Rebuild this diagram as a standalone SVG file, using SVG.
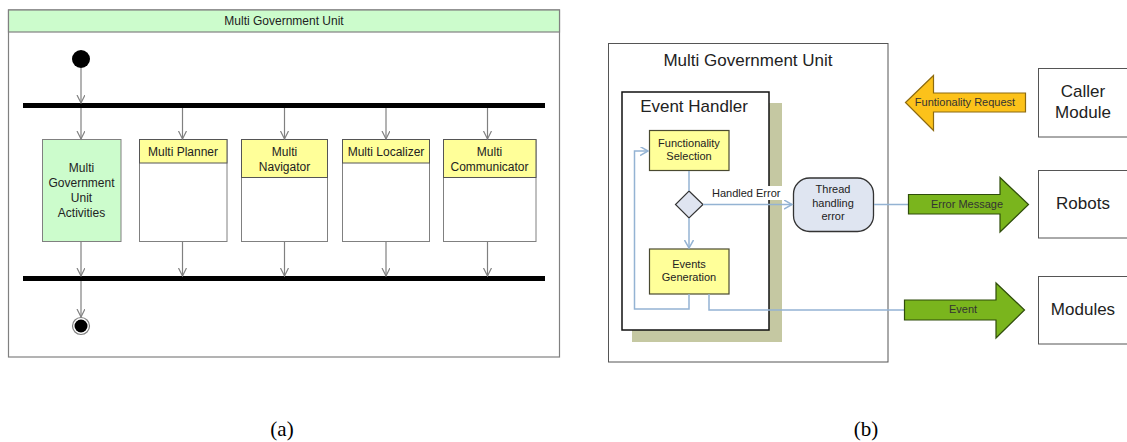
<svg xmlns="http://www.w3.org/2000/svg" width="1127" height="442" viewBox="0 0 1127 442">
<defs>
<style>
text{font-family:"Liberation Sans",Arial,sans-serif;fill:#222}
.a{font-size:12px;text-anchor:middle}
.s{font-size:11px;text-anchor:middle}
.b{font-size:17px;text-anchor:middle}
.cap{font-family:"Liberation Serif","DejaVu Serif",serif;font-size:21px;text-anchor:middle;fill:#000}
.g{stroke:#808080;stroke-width:1.2;fill:none}
.bl{stroke:#94b3d3;stroke-width:1.5;fill:none}
.yb{fill:#ffff99;stroke:#555;stroke-width:1}
.wb{fill:#fff;stroke:#808080;stroke-width:1}
</style>
<marker id="va" markerWidth="10" markerHeight="10" refX="8" refY="4" orient="auto" markerUnits="userSpaceOnUse"><path d="M0,0 L8,4 L0,8" fill="none" stroke="#808080" stroke-width="1.2"/></marker>
<marker id="vb" markerWidth="10" markerHeight="10" refX="8" refY="4.5" orient="auto" markerUnits="userSpaceOnUse"><path d="M0,0 L8,4.5 L0,9" fill="none" stroke="#94b3d3" stroke-width="1.5"/></marker>
</defs>
<rect width="1127" height="442" fill="#fff"/>

<!-- Panel (a) -->
<g id="a-frame">
<rect x="8.5" y="10" width="551" height="347" fill="#fff" stroke="#808080" stroke-width="1.2"/>
<rect x="8.5" y="10" width="551" height="22" fill="#ccfccc" stroke="#808080" stroke-width="1.2"/>
<text class="a" x="284" y="25">Multi Government Unit</text>
</g>
<g id="a-start"><circle cx="81" cy="59" r="9" fill="#000"/></g>
<g id="a-fork"><rect x="23" y="103" width="522" height="5" fill="#000"/></g>
<g id="a-join"><rect x="23" y="276" width="522" height="5" fill="#000"/></g>
<g id="a-end"><circle cx="81" cy="326" r="8.5" fill="#fff" stroke="#808080" stroke-width="1.2"/><circle cx="81" cy="326" r="6.5" fill="#000"/></g>
<g id="a-mgu">
<rect x="42.5" y="139.5" width="78.5" height="102" fill="#ccfccc" stroke="#808080"/>
<text class="a" x="81.5" y="172">Multi</text>
<text class="a" x="81.5" y="187">Government</text>
<text class="a" x="81.5" y="202">Unit</text>
<text class="a" x="81.5" y="217">Activities</text>
</g>
<g id="a-planner">
<rect class="wb" x="139.5" y="139.5" width="87.5" height="102"/>
<rect class="yb" x="139.5" y="139.5" width="87.5" height="23.5" stroke="#808080"/>
<text class="a" x="183" y="156">Multi Planner</text>
</g>
<g id="a-navigator">
<rect class="wb" x="241.5" y="139.5" width="86" height="102"/>
<rect class="yb" x="241.5" y="139.5" width="86" height="38" stroke="#808080"/>
<text class="a" x="284.5" y="156">Multi</text>
<text class="a" x="284.5" y="171">Navigator</text>
</g>
<g id="a-localizer">
<rect class="wb" x="342.5" y="139.5" width="87" height="102"/>
<rect class="yb" x="342.5" y="139.5" width="87" height="23.5" stroke="#808080"/>
<text class="a" x="386" y="156">Multi Localizer</text>
</g>
<g id="a-communicator">
<rect class="wb" x="443.5" y="139.5" width="92.5" height="102"/>
<rect class="yb" x="443.5" y="139.5" width="92.5" height="38" stroke="#808080"/>
<text class="a" x="489.5" y="156">Multi</text>
<text class="a" x="489.5" y="171">Communicator</text>
</g>
<g id="a-connectors">
<line class="g" x1="81" y1="68" x2="81" y2="103" marker-end="url(#va)"/>
<line class="g" x1="81" y1="108" x2="81" y2="139" marker-end="url(#va)"/>
<line class="g" x1="182.5" y1="108" x2="182.5" y2="139" marker-end="url(#va)"/>
<line class="g" x1="284.5" y1="108" x2="284.5" y2="139" marker-end="url(#va)"/>
<line class="g" x1="386" y1="108" x2="386" y2="139" marker-end="url(#va)"/>
<line class="g" x1="487.5" y1="108" x2="487.5" y2="139" marker-end="url(#va)"/>
<line class="g" x1="81" y1="242" x2="81" y2="276" marker-end="url(#va)"/>
<line class="g" x1="182.5" y1="242" x2="182.5" y2="276" marker-end="url(#va)"/>
<line class="g" x1="284.5" y1="242" x2="284.5" y2="276" marker-end="url(#va)"/>
<line class="g" x1="386" y1="242" x2="386" y2="276" marker-end="url(#va)"/>
<line class="g" x1="487.5" y1="242" x2="487.5" y2="276" marker-end="url(#va)"/>
<line class="g" x1="81" y1="281" x2="81" y2="317" marker-end="url(#va)"/>
</g>
<text class="cap" x="282" y="436">(a)</text>

<!-- Panel (b) -->
<g id="b-frame">
<rect x="608.5" y="43.5" width="279.5" height="318.5" fill="#fff" stroke="#555" stroke-width="1"/>
<text class="b" x="748" y="66">Multi Government Unit</text>
</g>
<g id="b-eventhandler">
<rect x="632" y="103" width="150" height="239" fill="#c5c8a2"/>
<rect x="622" y="92" width="147" height="238" fill="#fff" stroke="#111" stroke-width="1.5"/>
<text class="b" x="694" y="112">Event Handler</text>
</g>
<g id="b-funcsel">
<rect x="649.5" y="130.5" width="79.5" height="40" fill="#ffff99" stroke="#4a4a30" stroke-width="1.2"/>
<text class="s" x="689" y="147">Functionality</text>
<text class="s" x="689" y="160">Selection</text>
</g>
<g id="b-decision"><path d="M689,191 L703,204.5 L689,218 L675.5,204.5 Z" fill="#dfe4f0" stroke="#333" stroke-width="1.2"/></g>
<g id="b-eventsgen">
<rect x="649.5" y="249" width="79.5" height="45" fill="#ffff99" stroke="#4a4a30" stroke-width="1.2"/>
<text class="s" x="689" y="268">Events</text>
<text class="s" x="689" y="281">Generation</text>
</g>
<g id="b-thread">
<rect x="793.5" y="178" width="80" height="53.5" rx="16" fill="#dfe5f1" stroke="#333" stroke-width="1.3"/>
<text class="s" x="833" y="193">Thread</text>
<text class="s" x="833" y="207">handling</text>
<text class="s" x="833" y="220">error</text>
</g>
<g id="b-caller">
<rect x="1038.5" y="68.5" width="95" height="68.5" fill="#fff" stroke="#555" stroke-width="1"/>
<text class="b" x="1083" y="97">Caller</text>
<text class="b" x="1083" y="118">Module</text>
</g>
<g id="b-robots">
<rect x="1038.5" y="170.5" width="95" height="67.5" fill="#fff" stroke="#555" stroke-width="1"/>
<text class="b" x="1083" y="209">Robots</text>
</g>
<g id="b-modules">
<rect x="1038.5" y="276.5" width="95" height="67.5" fill="#fff" stroke="#555" stroke-width="1"/>
<text class="b" x="1083" y="315">Modules</text>
</g>
<g id="b-connectors">
<line class="bl" x1="689" y1="171" x2="689" y2="191"/>
<line class="bl" x1="689" y1="218" x2="689" y2="248" marker-end="url(#vb)"/>
<polyline class="bl" points="689,294 689,309 634.5,309 634.5,151 648,151" marker-end="url(#vb)"/>
<polyline class="bl" points="709,294 709,310 904,310"/>
<line class="bl" x1="703" y1="204.5" x2="792" y2="204.5" marker-end="url(#vb)"/>
<line class="bl" x1="874" y1="204.5" x2="908" y2="204.5"/>
<rect x="710" y="186" width="73" height="14" fill="#fff"/>
<text x="712" y="197" font-size="11px">Handled Error</text>
</g>
<g id="b-request">
<path d="M905.5,102.5 L933.5,75.5 L933.5,93 L1025.5,93 L1025.5,112 L933.5,112 L933.5,130.5 Z" fill="#fcc21a" stroke="#8c6a10" stroke-width="1.2"/>
<text class="s" x="965" y="106" style="fill:#333">Funtionality Request</text>
</g>
<g id="b-errmsg">
<path d="M908.5,194.5 L1000,194.5 L1000,177.5 L1028.5,204.5 L1000,232 L1000,214 L908.5,214 Z" fill="#7ab51d" stroke="#2f4d0a" stroke-width="1.2"/>
<text class="s" x="967" y="208" style="fill:#333">Error Message</text>
</g>
<g id="b-event">
<path d="M904.5,300 L996,300 L996,283 L1024.5,310 L996,338 L996,320 L904.5,320 Z" fill="#7ab51d" stroke="#2f4d0a" stroke-width="1.2"/>
<text class="s" x="963" y="313" style="fill:#333">Event</text>
</g>
<text class="cap" x="866" y="436">(b)</text>
</svg>
